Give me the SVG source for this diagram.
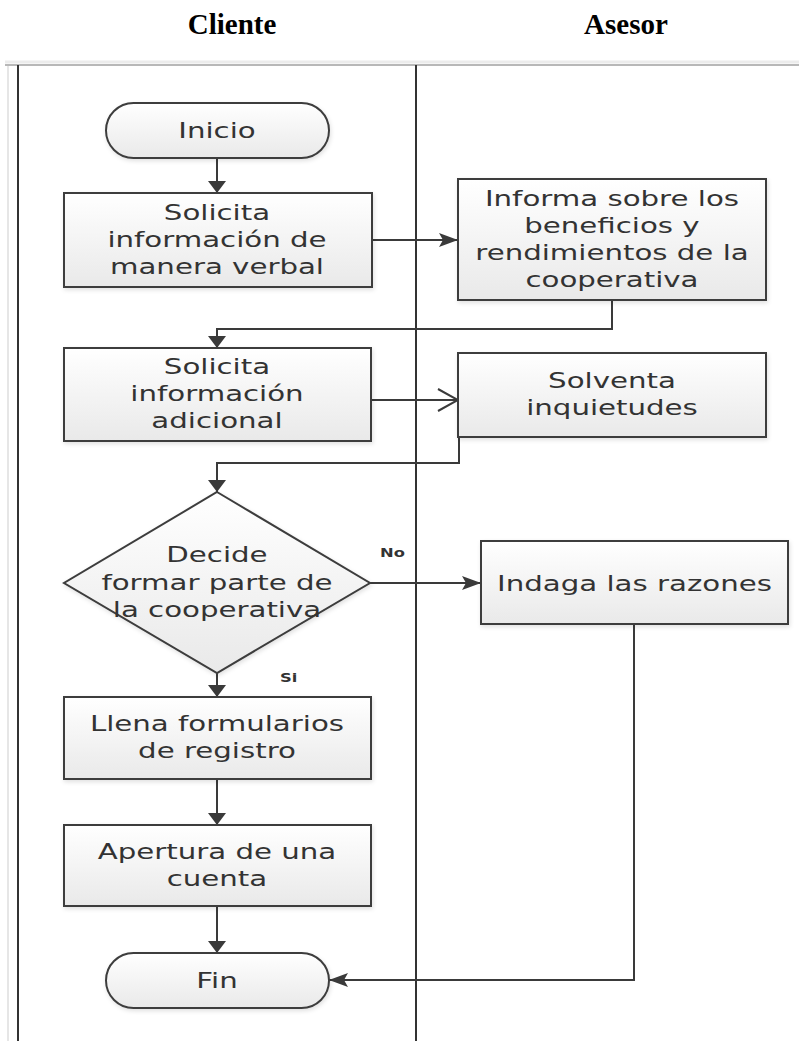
<svg xmlns="http://www.w3.org/2000/svg" width="799" height="1041" viewBox="0 0 799 1041">
  <defs>
    <style>
      .title { font-family: "Liberation Serif", "Times New Roman", serif; font-weight: bold; font-size: 29px; fill: #000; text-anchor: middle; }
      .shape { fill: url(#boxFill); stroke: #3d3d3d; stroke-width: 2; filter: url(#soft); }
      .lbl { font-family: "DejaVu Sans", "Noto Sans", sans-serif; font-size: 21.5px; fill: #333; text-anchor: middle; }
      .tag { font-family: "DejaVu Sans", "Noto Sans", sans-serif; font-size: 12px; font-weight: bold; fill: #333; }
      .wire { fill: none; stroke: #3a3a3a; stroke-width: 2; }
      .lane { stroke: #333; stroke-width: 2; }
    </style>
    <linearGradient id="boxFill" x1="0" y1="0" x2="0" y2="1">
      <stop offset="0" stop-color="#ffffff"/>
      <stop offset="1" stop-color="#e9e9e9"/>
    </linearGradient>
    <filter id="soft" x="-10%" y="-10%" width="120%" height="125%">
      <feDropShadow dx="1" dy="2" stdDeviation="2" flood-color="#000" flood-opacity="0.12"/>
    </filter>
    <!-- arrowheads: the drawing is wider than tall, so side-pointing heads are longer -->
    <marker id="headDown" markerUnits="userSpaceOnUse" markerWidth="12" markerHeight="18" refX="12" refY="9" orient="auto">
      <path d="M0,0 L12,9 L0,18 Z" fill="#3a3a3a"/>
    </marker>
    <marker id="headSide" markerUnits="userSpaceOnUse" markerWidth="19" markerHeight="14" refX="19" refY="7" orient="auto">
      <path d="M0,0 L19,7 L0,14 L4,7 Z" fill="#3a3a3a"/>
    </marker>
    <marker id="headOpen" markerUnits="userSpaceOnUse" markerWidth="22" markerHeight="24" refX="21" refY="12" orient="auto">
      <path d="M1,1 L21,12 L1,23" fill="none" stroke="#3a3a3a" stroke-width="2"/>
    </marker>
  </defs>

  <rect width="799" height="1041" fill="#ffffff"/>

  <!-- headers -->
  <text class="title" x="232" y="34">Cliente</text>
  <text class="title" x="626" y="34">Asesor</text>

  <!-- swimlanes -->
  <g id="lanes">
    <line x1="5" y1="62" x2="799" y2="62" stroke="#ececec" stroke-width="3"/>
    <line x1="5" y1="65" x2="799" y2="65" stroke="#b8b8b8" stroke-width="2"/>
    <line x1="8" y1="66" x2="8" y2="1041" stroke="#e6e6e6" stroke-width="2"/>
    <line class="lane" x1="18" y1="65" x2="18" y2="1041"/>
    <line class="lane" x1="416" y1="65" x2="416" y2="1041"/>
  </g>

  <!-- connectors -->
  <g id="connectors">
    <path class="wire" d="M217,158 V193" marker-end="url(#headDown)"/>
    <path class="wire" d="M372,240 H458" marker-end="url(#headSide)"/>
    <path class="wire" d="M612,300 V329 H217 V348" marker-end="url(#headDown)"/>
    <path class="wire" d="M371,400 H458" marker-end="url(#headOpen)"/>
    <path class="wire" d="M459,437 V463 H217 V492" marker-end="url(#headDown)"/>
    <path class="wire" d="M370,583 H481" marker-end="url(#headSide)"/>
    <path class="wire" d="M217,673 V697" marker-end="url(#headDown)"/>
    <path class="wire" d="M217,779 V825" marker-end="url(#headDown)"/>
    <path class="wire" d="M217,906 V953" marker-end="url(#headDown)"/>
    <path class="wire" d="M634,624 V980 H329" marker-end="url(#headSide)"/>
    <g transform="matrix(1.36 0 0 1 -136.8 0)">
      <text class="tag" x="380" y="557">No</text>
    </g>
    <g transform="matrix(1.36 0 0 1 -100.8 0)">
      <text class="tag" x="280" y="682">Si</text>
    </g>
  </g>

  <!-- nodes -->
  <g id="inicio">
    <rect class="shape" x="106" y="103" width="223" height="55" rx="27.5"/>
    <g transform="matrix(1.36 0 0 1 -78.12 0)">
      <text class="lbl" x="217" y="138">Inicio</text>
    </g>
  </g>

  <g id="solicita-verbal">
    <rect class="shape" x="64" y="193" width="308" height="94"/>
    <g transform="matrix(1.36 0 0 1 -78.12 0)">
      <text class="lbl" x="217" y="220">Solicita</text>
      <text class="lbl" x="217" y="247">información de</text>
      <text class="lbl" x="217" y="274">manera verbal</text>
    </g>
  </g>

  <g id="informa">
    <rect class="shape" x="458" y="179" width="308" height="121"/>
    <g transform="matrix(1.36 0 0 1 -220.32 0)">
      <text class="lbl" x="612" y="206">Informa sobre los</text>
      <text class="lbl" x="612" y="233">beneficios y</text>
      <text class="lbl" x="612" y="260">rendimientos de la</text>
      <text class="lbl" x="612" y="287">cooperativa</text>
    </g>
  </g>

  <g id="solicita-adicional">
    <rect class="shape" x="64" y="348" width="307" height="93"/>
    <g transform="matrix(1.36 0 0 1 -78.12 0)">
      <text class="lbl" x="217" y="374">Solicita</text>
      <text class="lbl" x="217" y="401">información</text>
      <text class="lbl" x="217" y="428">adicional</text>
    </g>
  </g>

  <g id="solventa">
    <rect class="shape" x="458" y="353" width="308" height="84"/>
    <g transform="matrix(1.36 0 0 1 -220.32 0)">
      <text class="lbl" x="612" y="388">Solventa</text>
      <text class="lbl" x="612" y="415">inquietudes</text>
    </g>
  </g>

  <g id="decide">
    <polygon class="shape" points="217,492 370,583 217,673 64,583"/>
    <g transform="matrix(1.36 0 0 1 -78.12 0)">
      <text class="lbl" x="217" y="562">Decide</text>
      <text class="lbl" x="217" y="590">formar parte de</text>
      <text class="lbl" x="217" y="617">la cooperativa</text>
    </g>
  </g>

  <g id="indaga">
    <rect class="shape" x="481" y="541" width="307" height="83"/>
    <g transform="matrix(1.36 0 0 1 -228.42 0)">
      <text class="lbl" x="634.5" y="591">Indaga las razones</text>
    </g>
  </g>

  <g id="llena">
    <rect class="shape" x="64" y="697" width="307" height="82"/>
    <g transform="matrix(1.36 0 0 1 -78.12 0)">
      <text class="lbl" x="217" y="731">Llena formularios</text>
      <text class="lbl" x="217" y="758">de registro</text>
    </g>
  </g>

  <g id="apertura">
    <rect class="shape" x="64" y="825" width="307" height="81"/>
    <g transform="matrix(1.36 0 0 1 -78.12 0)">
      <text class="lbl" x="217" y="859">Apertura de una</text>
      <text class="lbl" x="217" y="886">cuenta</text>
    </g>
  </g>

  <g id="fin">
    <rect class="shape" x="106" y="953" width="223" height="55" rx="27.5"/>
    <g transform="matrix(1.36 0 0 1 -78.12 0)">
      <text class="lbl" x="217" y="988">Fin</text>
    </g>
  </g>
</svg>
